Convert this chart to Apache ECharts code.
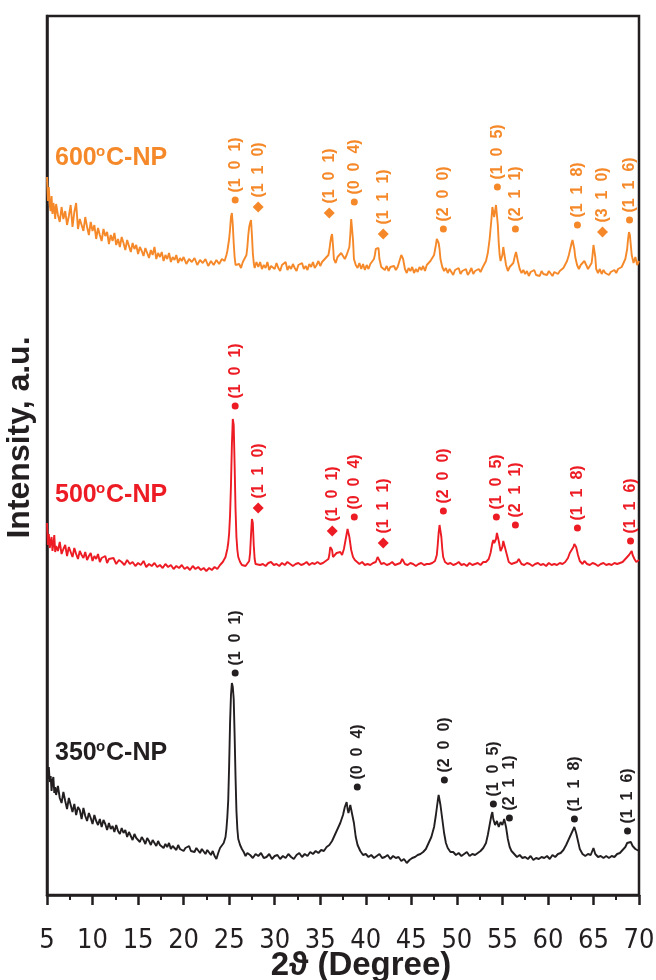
<!DOCTYPE html>
<html>
<head>
<meta charset="utf-8">
<title>XRD patterns</title>
<script src="https://cdn.jsdelivr.net/npm/echarts@6/dist/echarts.min.js"></script>
<style>
  html, body { margin: 0; padding: 0; background: #fff; }
  #chart { width: 656px; height: 980px; }
</style>
</head>
<body>
<div id="chart"></div>
<script>
// 2-theta (deg) vs intensity (a.u., patterns stacked with offsets)
const pattern350 = [
  [5.0,131],[5.1,116],[5.2,128],[5.3,113],[5.4,119],[5.5,104],[5.6,114],[5.7,118],[5.8,102],[5.9,108],
  [6.0,100],[6.2,109],[6.4,97],[6.6,92],[6.8,103],[7.0,94],[7.2,86],[7.4,97],[7.6,90],[7.8,83],
  [8.0,91],[8.2,80],[8.4,88],[8.6,85],[8.8,76],[9.0,87],[9.2,79],[9.4,74],[9.6,82],[9.8,77],
  [10.0,71],[10.2,80],[10.4,74],[10.6,70],[10.8,76],[11.0,68],[11.2,75],[11.4,71],[11.6,65],[11.8,72],
  [12.0,66],[12.2,69],[12.4,63],[12.6,70],[12.8,64],[13.0,61],[13.2,67],[13.4,62],[13.6,65],[13.8,58],
  [14.0,63],[14.2,59],[14.4,55],[14.6,61],[14.8,57],[15.0,59],[15.2,53],[15.4,58],[15.6,55],[15.8,51],
  [16.0,57],[16.2,54],[16.4,50],[16.6,55],[16.8,52],[17.0,49],[17.2,54],[17.4,50],[17.6,52],[17.8,47],
  [18.0,51],[18.2,48],[18.4,52],[18.6,46],[18.8,49],[19.0,47],[19.2,45],[19.4,50],[19.6,46],[19.8,48],
  [20.0,44],[20.2,47],[20.4,45],[20.6,49],[20.8,44],[21.0,46],[21.2,43],[21.4,47],[21.6,45],[21.8,42],
  [22.0,46],[22.2,44],[22.4,41],[22.6,45],[22.8,43],[23.0,40],[23.2,44],[23.4,39],[23.6,36],[23.8,42],
  [24.0,47],[24.2,45],[24.4,52],[24.6,58],
  [24.7,66],[24.8,78],[24.9,95],[25.0,130],[25.1,172],[25.2,200],[25.3,212],[25.4,208],[25.5,196],[25.6,160],
  [25.7,118],[25.8,84],[25.9,66],[26.0,56],[26.2,50],[26.4,46],
  [26.6,43],[26.8,39],[27.0,42],[27.3,40],[27.6,37],[27.9,41],[28.2,39],[28.5,42],[28.8,37],[29.1,38],
  [29.4,41],[29.7,36],[30.0,39],[30.3,40],[30.6,36],[30.9,39],[31.2,37],[31.5,41],[31.8,38],[32.1,36],
  [32.4,40],[32.7,42],[33.0,38],[33.3,41],[33.6,39],[33.9,43],[34.2,41],[34.5,44],[34.8,42],[35.1,45],
  [35.4,44],[35.7,48],
  [36.0,50],[36.3,54],[36.6,60],[36.9,66],[37.2,72],[37.5,80],[37.7,88],[37.9,93],[38.0,86],[38.1,82],
  [38.3,90],[38.5,88],[38.7,72],[38.9,58],[39.1,50],[39.4,44],[39.7,40],
  [40.0,41],[40.3,38],[40.6,40],[40.9,37],[41.2,39],[41.5,41],[41.8,37],[42.1,38],[42.4,40],[42.7,36],
  [43.0,39],[43.3,37],[43.6,38],[43.9,34],[44.2,36],[44.5,32],[44.8,35],[45.1,37],[45.4,38],[45.7,40],
  [46.0,41],[46.3,43],[46.6,46],
  [46.9,52],[47.2,58],[47.5,68],[47.7,80],[47.9,94],[48.0,100],[48.1,98],[48.2,90],[48.4,76],[48.6,62],
  [48.8,52],[49.0,47],[49.3,43],
  [49.6,43],[49.9,40],[50.2,42],[50.5,39],[50.8,41],[51.1,43],[51.4,39],[51.7,41],[52.0,40],[52.3,42],
  [52.6,44],[52.9,47],[53.2,52],
  [53.4,60],[53.6,70],[53.8,80],[53.9,83],[54.0,76],[54.2,70],[54.4,74],[54.6,68],[54.8,73],[55.0,70],
  [55.2,76],[55.4,68],[55.6,56],[55.8,48],[56.0,44],
  [56.3,41],[56.6,38],[56.9,40],[57.2,37],[57.5,38],[57.8,36],[58.1,39],[58.4,35],[58.7,37],[59.0,36],
  [59.3,38],[59.6,37],[59.9,39],[60.2,36],[60.5,40],[60.8,38],[61.1,41],[61.4,42],[61.7,45],
  [62.0,50],[62.3,56],[62.5,60],[62.7,64],[62.9,68],[63.0,66],[63.1,62],[63.3,54],[63.5,46],[63.8,41],
  [64.1,39],[64.4,41],[64.7,40],[65.0,47],[65.2,41],[65.5,38],[65.8,39],[66.1,37],[66.4,39],[66.7,37],
  [67.0,39],[67.3,38],[67.6,41],[67.9,42],[68.2,45],
  [68.5,48],[68.7,52],[68.9,50],[69.1,53],[69.3,49],[69.6,46],[70.0,44]
];

const pattern500 = [
  [5.0,372],[5.1,350],[5.2,361],[5.3,347],[5.4,353],[5.5,358],[5.6,344],[5.7,351],[5.8,360],[5.9,343],
  [6.0,349],[6.2,344],[6.4,353],[6.6,341],[6.8,346],[7.0,350],[7.2,339],[7.4,348],[7.6,343],[7.8,338],
  [8.0,347],[8.2,341],[8.4,336],[8.6,344],[8.8,340],[9.0,337],[9.2,343],[9.4,335],[9.6,339],[9.8,342],
  [10.0,334],[10.2,339],[10.4,336],[10.6,341],[10.8,333],[11.0,337],[11.2,335],[11.4,339],[11.6,332],[11.8,336],
  [12.0,334],[12.3,337],[12.6,331],[12.9,335],[13.2,333],[13.5,330],[13.8,335],[14.1,331],[14.4,333],[14.7,329],
  [15.0,332],[15.3,330],[15.6,334],[15.9,328],[16.2,331],[16.5,329],[16.8,332],[17.1,328],[17.4,330],[17.7,327],
  [18.0,331],[18.3,328],[18.6,330],[18.9,326],[19.2,329],[19.5,327],[19.8,330],[20.1,326],[20.4,328],[20.7,325],
  [21.0,329],[21.3,326],[21.6,328],[21.9,325],[22.2,327],[22.5,324],[22.8,327],[23.1,325],[23.4,328],[23.7,326],
  [24.0,330],[24.3,333],[24.6,338],[24.8,346],
  [24.9,352],[25.0,362],[25.1,380],[25.2,410],[25.3,450],[25.4,476],[25.45,478],[25.5,470],[25.6,430],[25.7,386],
  [25.8,358],[25.9,345],[26.0,338],[26.2,333],[26.4,330],[26.6,332],[26.8,329],[27.0,331],[27.2,334],
  [27.3,342],[27.4,360],[27.5,376],[27.6,372],[27.7,350],[27.8,336],[27.9,331],
  [28.1,333],[28.4,330],[28.7,331],[29.0,329],[29.3,332],[29.6,333],[29.9,330],[30.2,331],[30.5,329],[30.8,332],
  [31.1,330],[31.4,333],[31.7,331],[32.0,329],[32.3,331],[32.6,332],[32.9,330],[33.2,331],[33.5,333],[33.8,330],
  [34.1,332],[34.4,331],[34.7,333],[35.0,331],[35.3,332],[35.6,334],[35.9,336],
  [36.0,340],[36.1,348],[36.2,350],[36.3,345],[36.4,338],[36.6,340],[36.8,342],[37.0,340],[37.2,343],[37.4,340],
  [37.6,346],[37.8,356],[38.0,366],[38.05,368],[38.2,358],[38.4,345],[38.6,338],[38.8,335],[39.0,333],
  [39.3,331],[39.6,333],[39.9,330],[40.2,331],[40.5,330],[40.8,332],[41.1,333],
  [41.3,338],[41.4,340],[41.5,336],[41.7,331],[42.0,332],[42.3,330],[42.6,331],[42.9,333],[43.2,330],[43.5,331],
  [43.8,332],[44.0,336],[44.1,334],[44.3,331],[44.6,330],[44.9,332],[45.2,331],[45.5,329],[45.8,331],[46.1,332],
  [46.4,330],[46.7,331],[47.0,331],[47.3,332],[47.6,334],
  [47.8,340],[47.9,350],[48.0,362],[48.1,370],[48.2,369],[48.3,358],[48.4,346],[48.5,338],[48.7,333],[49.0,331],
  [49.3,332],[49.6,330],[49.9,331],[50.2,333],[50.5,330],[50.8,331],[51.1,329],[51.4,332],[51.7,330],[52.0,331],
  [52.3,332],[52.6,330],[52.9,333],[53.2,333],[53.5,336],
  [53.7,342],[53.9,352],[54.0,355],[54.1,352],[54.3,356],[54.4,362],[54.5,363],[54.6,354],[54.8,344],[54.9,342],
  [55.0,348],[55.1,354],[55.2,356],[55.3,352],[55.5,340],[55.7,333],[56.0,331],[56.3,332],[56.6,333],[56.8,336],
  [56.9,335],[57.1,331],
  [57.4,330],[57.7,332],[58.0,331],[58.3,329],[58.6,331],[58.9,332],[59.2,330],[59.5,331],[59.8,329],[60.1,332],
  [60.4,330],[60.7,331],[61.0,330],[61.3,332],[61.6,331],[61.9,333],[62.2,337],
  [62.4,342],[62.6,341],[62.8,348],[62.9,351],[63.0,352],[63.1,348],[63.3,340],[63.5,334],[63.8,331],[64.0,334],
  [64.1,333],[64.3,331],[64.6,330],[64.9,332],[65.2,331],[65.5,329],[65.8,331],[66.1,332],[66.4,330],[66.7,331],
  [67.0,330],[67.3,332],[67.6,331],[67.9,332],[68.2,333],[68.5,336],
  [68.7,338],[68.9,340],[69.0,342],[69.2,344],[69.3,340],[69.5,336],[69.7,333],[70.0,335]
];

const pattern600 = [
  [5.0,718],[5.1,694],[5.2,708],[5.3,690],[5.4,684],[5.5,699],[5.6,681],[5.7,692],[5.8,686],[5.9,676],
  [6.0,691],[6.2,680],[6.4,673],[6.6,688],[6.8,676],[7.0,684],[7.2,670],[7.4,679],[7.6,690],[7.8,668],
  [8.0,683],[8.2,692],[8.4,666],[8.6,676],[8.8,670],[9.0,664],[9.2,678],[9.4,668],[9.6,660],[9.8,673],
  [10.0,664],[10.2,670],[10.4,656],[10.6,667],[10.8,660],[11.0,654],[11.2,666],[11.4,659],[11.6,663],[11.8,651],
  [12.0,660],[12.2,654],[12.4,662],[12.6,650],[12.8,656],[13.0,648],[13.2,658],[13.4,652],[13.6,645],[13.8,655],
  [14.0,649],[14.2,643],[14.4,652],[14.6,646],[14.8,650],[15.0,641],[15.2,648],[15.4,644],[15.6,639],[15.8,647],
  [16.0,642],[16.2,637],[16.4,645],[16.6,640],[16.8,648],[17.0,636],[17.2,642],[17.4,638],[17.6,643],[17.8,634],
  [18.0,640],[18.2,636],[18.4,642],[18.6,633],[18.8,638],[19.0,635],[19.2,640],[19.4,632],[19.6,637],[19.8,634],
  [20.0,638],[20.3,631],[20.6,636],[20.9,633],[21.2,637],[21.5,630],[21.8,635],[22.1,632],[22.4,636],[22.7,629],
  [23.0,634],[23.3,630],[23.6,635],[23.9,631],[24.2,636],[24.5,634],[24.7,640],
  [24.8,644],[24.9,650],[25.0,656],[25.1,666],[25.2,678],[25.3,682],[25.4,670],[25.5,652],[25.6,638],[25.7,630],
  [25.9,628],[26.1,631],[26.3,627],[26.5,633],[26.7,632],[26.9,640],[27.0,648],[27.1,660],[27.2,668],[27.3,672],
  [27.4,675],[27.5,660],[27.6,642],[27.7,632],[27.8,627],[28.0,633],
  [28.2,628],[28.4,633],[28.6,626],[28.8,630],[29.0,627],[29.2,633],[29.4,625],[29.6,629],[29.8,631],[30.0,626],
  [30.2,632],[30.4,627],[30.6,624],[30.8,630],[31.0,628],[31.2,633],[31.4,625],[31.6,629],[31.8,626],[32.0,631],
  [32.2,627],[32.4,624],[32.6,630],[32.8,628],[33.0,632],[33.2,626],[33.4,629],[33.6,625],[33.8,631],[34.0,628],
  [34.2,633],[34.4,627],[34.6,630],[34.8,634],[35.0,629],[35.2,633],[35.4,631],[35.6,637],
  [35.9,640],[36.0,645],[36.1,652],[36.2,658],[36.3,661],[36.4,650],[36.5,636],[36.7,632],[36.9,638],[37.1,636],
  [37.3,642],[37.5,642],[37.7,636],[37.9,640],[38.1,642],[38.2,648],[38.3,660],[38.4,676],[38.5,678],[38.6,655],
  [38.7,636],[38.9,630],
  [39.1,627],[39.3,632],[39.5,626],[39.7,631],[39.9,625],[40.1,630],[40.3,626],[40.5,631],[40.7,630],[40.9,636],
  [41.0,640],[41.1,646],[41.2,648],[41.3,644],[41.4,647],[41.5,636],[41.7,628],[41.9,630],[42.1,625],[42.3,629],
  [42.5,624],[42.7,628],[42.9,626],[43.1,629],[43.3,625],[43.5,628],[43.7,630],[43.9,640],[44.0,642],[44.1,636],
  [44.3,626],[44.5,622],[44.7,627],[44.9,624],[45.1,628],[45.3,622],[45.5,626],[45.7,623],[45.9,628],[46.1,625],
  [46.3,629],[46.5,624],[46.7,630],[46.9,628],[47.1,634],[47.3,636],
  [47.5,640],[47.7,650],[47.8,656],[47.9,658],[48.0,652],[48.1,646],[48.2,636],[48.4,628],[48.6,624],[48.8,627],
  [49.0,622],[49.2,626],[49.4,624],[49.6,620],[49.8,625],[50.0,623],[50.2,627],[50.4,621],[50.6,624],[50.8,622],
  [51.0,626],[51.2,620],[51.4,623],[51.6,627],[51.8,621],[52.0,624],[52.2,622],[52.4,626],[52.6,623],[52.8,627],
  [53.0,628],[53.2,634],
  [53.4,642],[53.6,656],[53.8,676],[53.9,688],[54.0,689],[54.1,678],[54.2,684],[54.3,690],[54.4,688],[54.5,670],
  [54.6,652],[54.7,640],[54.8,634],[55.0,640],[55.1,648],[55.2,650],[55.3,636],[55.4,630],[55.6,624],[55.8,628],
  [56.0,626],[56.2,632],[56.4,640],[56.5,643],[56.6,642],[56.7,634],[56.9,626],
  [57.1,622],[57.3,625],[57.5,621],[57.7,624],[57.9,619],[58.1,623],[58.3,621],[58.5,625],[58.7,620],[58.9,622],
  [59.1,619],[59.3,624],[59.5,621],[59.7,623],[59.9,620],[60.1,624],[60.3,622],[60.5,619],[60.7,623],[60.9,625],
  [61.1,621],[61.3,624],[61.5,623],[61.7,627],[61.9,628],[62.1,634],
  [62.3,640],[62.5,648],[62.6,652],[62.7,655],[62.8,654],[62.9,646],[63.0,638],[63.2,630],[63.4,626],[63.6,630],
  [63.8,628],[64.0,634],[64.1,636],[64.2,630],[64.4,626],[64.6,628],[64.8,632],
  [64.9,640],[65.0,650],[65.1,652],[65.2,638],[65.3,626],[65.5,622],[65.7,626],[65.9,621],[66.1,625],[66.3,622],
  [66.5,624],[66.7,620],[66.9,623],[67.1,621],[67.3,625],[67.5,622],[67.7,626],[67.9,624],[68.1,628],[68.3,630],
  [68.5,636],[68.7,646],[68.8,656],[68.9,663],[69.0,660],[69.1,650],[69.2,640],[69.4,632],[69.6,638],[69.8,630],
  [70.0,634]
];

// reflection marks: [2theta, intensity, hkl, phase]  A = anatase (dot), R = rutile (diamond)
const peaks350 = [
  [25.66,222,'(1  0  1)','A'],[39.07,108,'(0  0  4)','A'],[48.63,115,'(2  0  0)','A'],
  [54.01,91,'(1  0  5)','A'],[55.77,77,'(2  1  1)','A'],[62.91,76,'(1  1  8)','A'],[68.74,64,'(1  1  6)','A']
];
const peaks500 = [
  [25.66,489,'(1  0  1)','A'],[28.19,387,'(1  1  0)','R'],[36.32,364,'(1  0  1)','R'],[38.74,378,'(0  0  4)','A'],
  [41.92,352,'(1  1  1)','R'],[48.52,384,'(2  0  0)','A'],[54.34,378,'(1  0  5)','A'],[56.43,370,'(2  1  1)','A'],
  [63.24,367,'(1  1  8)','A'],[69.07,354,'(1  1  6)','A']
];
const peaks600 = [
  [25.66,695,'(1  0  1)','A'],[28.19,688,'(1  1  0)','R'],[35.99,682,'(1  0  1)','R'],[38.74,693,'(0  0  4)','A'],
  [41.92,661,'(1  1  1)','R'],[48.52,666,'(2  0  0)','A'],[54.45,708,'(1  0  5)','A'],[56.43,666,'(2  1  1)','A'],
  [63.24,670,'(1  1  8)','A'],[65.99,663,'(3  1  0)','R'],[68.96,675,'(1  1  6)','A']
];

const colors = { '350': '#231f20', '500': '#ed1c24', '600': '#f5892a' };

const chart = echarts.init(document.getElementById('chart'));
const font = "'Liberation Sans', Arial, sans-serif";
const narrow = "'Liberation Sans Narrow', 'Arial Narrow', 'DejaVu Sans Condensed', 'Liberation Sans', Arial, sans-serif";

const lineSeries = (data, c) => ({
  type: 'line', data: data, showSymbol: false, silent: true,
  lineStyle: { color: c, width: 1.9 }, z: 2
});

const markSeries = (list, c) => ({
  type: 'scatter', silent: true, z: 3,
  data: list.map(p => ({
    value: [p[0], p[1]],
    name: p[2],
    symbol: p[3] === 'R' ? 'diamond' : 'circle',
    symbolSize: p[3] === 'R' ? [11, 11] : 7
  })),
  itemStyle: { color: c, opacity: 1 },
  label: {
    show: true, formatter: '{b}', position: 'top', distance: 4,
    rotate: 90, align: 'left', verticalAlign: 'middle',
    color: c, fontSize: 16, fontWeight: 'bold', fontFamily: font
  }
});

// sample name: "600", raised "o", "C-NP" as three pieces
const nameText = (temp, top) => {
  const st = { fill: colors[temp], fontWeight: 'bold', fontFamily: font };
  return [
    { type: 'text', left: 55, top: top, style: Object.assign({ text: temp, fontSize: 25 }, st) },
    { type: 'text', left: 96, top: top - 2, style: Object.assign({ text: 'o', fontSize: 15 }, st) },
    { type: 'text', left: 106, top: top, style: Object.assign({ text: 'C-NP', fontSize: 25 }, st) }
  ];
};

chart.setOption({
  animation: false,
  backgroundColor: '#fff',
  grid: {
    left: 47, right: 17, top: 16, bottom: 85, outerBoundsMode: 'none',
    show: true, borderColor: '#231f20', borderWidth: 2.5
  },
  xAxis: {
    type: 'value', min: 5, max: 70, interval: 5,
    name: '2\u03d1 (Degree)', nameLocation: 'middle', nameGap: 54, nameMoveOverlap: false,
    nameTextStyle: { fontSize: 33, fontWeight: 'bold', fontFamily: font, color: '#231f20', padding: [0, 0, 0, 36] },
    axisLine: { lineStyle: { color: '#231f20', width: 2.5 } },
    axisTick: { length: 10, lineStyle: { color: '#231f20', width: 2.5 } },
    minorTick: { show: true, splitNumber: 2, length: 5, lineStyle: { color: '#231f20', width: 2 } },
    axisLabel: { fontSize: 27, fontFamily: narrow, color: '#231f20', margin: 32 },
    splitLine: { show: false }
  },
  yAxis: {
    type: 'value', min: 0, max: 879,
    name: 'Intensity, a.u.', nameLocation: 'middle', nameGap: 11, nameMoveOverlap: false,
    nameTextStyle: { fontSize: 32, fontWeight: 'bold', fontFamily: font, color: '#231f20', padding: [0, 0, 0, 36] },
    axisLine: { show: true, lineStyle: { color: '#231f20', width: 2.5 } },
    axisTick: { show: false }, axisLabel: { show: false }, splitLine: { show: false }
  },
  graphic: [].concat(nameText('600', 146), nameText('500', 483), nameText('350', 741)),
  series: [
    lineSeries(pattern350, colors['350']),
    lineSeries(pattern500, colors['500']),
    lineSeries(pattern600, colors['600']),
    markSeries(peaks350, colors['350']),
    markSeries(peaks500, colors['500']),
    markSeries(peaks600, colors['600'])
  ]
});
</script>
</body>
</html>
